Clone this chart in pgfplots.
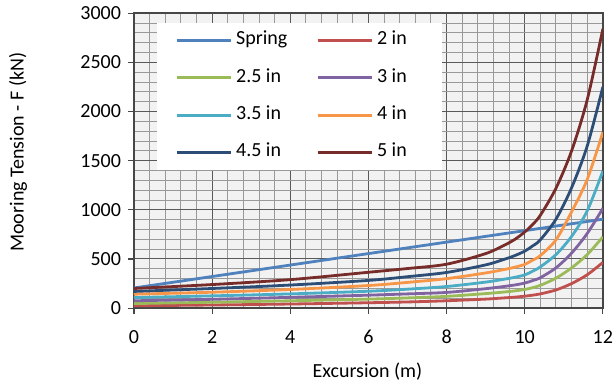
\documentclass[border=0pt]{standalone}
\usepackage{fontspec}
\setmainfont{Carlito}
\usepackage{pgfplots}
\pgfplotsset{compat=1.18}
\definecolor{cSpring}{HTML}{4F81BD}
\definecolor{cA}{HTML}{C0504D}
\definecolor{cB}{HTML}{9BBB59}
\definecolor{cC}{HTML}{8064A2}
\definecolor{cD}{HTML}{4BACC6}
\definecolor{cE}{HTML}{F79646}
\definecolor{cF}{HTML}{2C4D75}
\definecolor{cG}{HTML}{772C2A}
\pgfplotstableread{
x     a    b    c     d     e     f     g
0     24   47   75    108   142   170   200
2     32   60   90    125   162   200   240
4     42   75   110   145   190   235   290
6     55   92   132   172   230   282   365
7     63   104  145   193   262   320   403
8     75   120  160   220   300   363   447
9     92   148  198   265   358   440   555
9.5   105  165  222   296   395   500   645
9.75  112  176  236   314   417   535   700
10    122  190  255   338   445   580   775
10.2  132  208  280   375   488   632   850
10.4  145  232  310   420   535   695   945
10.8  185  305  410   545   695   905   1220
11.2  250  410  560   730   980   1225  1600
11.6  340  545  760   990   1310  1650  2120
12    465  725  1015  1395  1790  2250  2840
}\data
\begin{document}
\begin{tikzpicture}
\begin{axis}[
  scale only axis, width=234.5pt, height=147.5pt,
  xmin=0, xmax=12, ymin=0, ymax=3000,
  xtick={0,2,...,12}, ytick={0,500,...,3000},
  minor x tick num=4, minor y tick num=4,
  grid=both,
  major grid style={draw=black!65, line width=0.5pt},
  minor grid style={draw=black!40, line width=0.5pt},
  axis background/.style={fill=black!5},
  axis line style={draw=black!72, line width=1.2pt},
  tick align=outside, tick pos=left,
  major tick length=3pt, minor tick length=0pt,
  tick style={draw=black!72, line width=0.6pt},
  /pgf/number format/assume math mode=true,
  /pgf/number format/1000 sep={},
  ticklabel style={font=\fontsize{10}{12}\selectfont},
  xticklabel style={inner xsep=1pt, yshift=-4.5pt},
  xlabel={Excursion (m)}, ylabel={Mooring Tension - F (kN)},
  xlabel style={at={(axis description cs:0.498,-0.215)}, anchor=center, inner sep=1pt},
  ylabel style={at={(axis description cs:-0.2473,0.529)}, anchor=center, inner sep=4.5pt},
  legend columns=2,
  legend cell align=left,
  legend image code/.code={\draw[#1, line width=1.4pt] (0pt,0pt) -- (27pt,0pt);},
  legend style={at={(0.049,0.9695)}, anchor=north west, draw=none, fill=white,
    inner xsep=9pt, inner ysep=2.1pt, row sep=5.2pt,
    nodes={inner sep=2pt, text height=7pt, text depth=2.5pt},
    font=\fontsize{10}{12}\selectfont,
    /tikz/every even column/.append style={column sep=12.5pt}},
  every axis plot/.append style={line width=1.4pt, smooth, tension=0.5},
]
\addplot[cSpring] coordinates {(0,205) (12,905)};
\addlegendentry{Spring}
\addplot[cA] table[x=x,y=a] {\data};
\addlegendentry{2 in\hspace*{6.5pt}}
\addplot[cB] table[x=x,y=b] {\data};
\addlegendentry{2.5 in}
\addplot[cC] table[x=x,y=c] {\data};
\addlegendentry{3 in}
\addplot[cD] table[x=x,y=d] {\data};
\addlegendentry{3.5 in}
\addplot[cE] table[x=x,y=e] {\data};
\addlegendentry{4 in}
\addplot[cF] table[x=x,y=f] {\data};
\addlegendentry{4.5 in}
\addplot[cG] table[x=x,y=g] {\data};
\addlegendentry{5 in}
\end{axis}
\end{tikzpicture}
\end{document}
